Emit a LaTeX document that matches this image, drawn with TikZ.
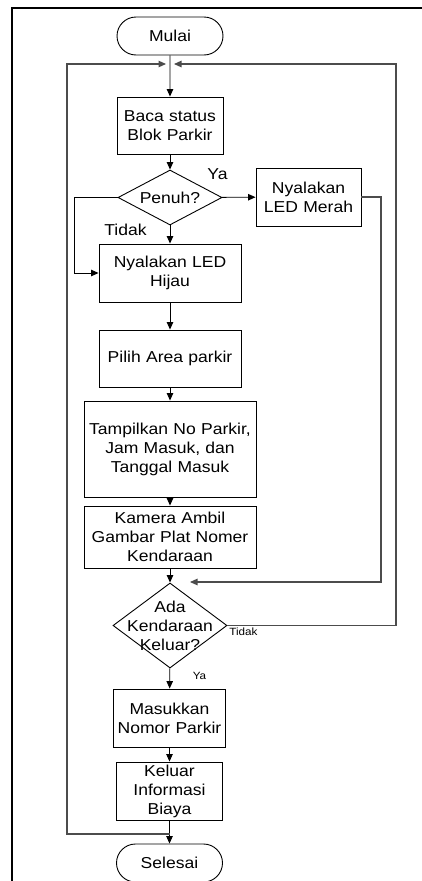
\documentclass[tikz,border=0pt]{standalone}
\usepackage{fontspec}
\setmainfont{Liberation Sans}[FakeStretch=1.11]
\usetikzlibrary{arrows.meta,shapes.geometric,shapes.misc}
\begin{document}
\begin{tikzpicture}[x=1pt,y=-1pt,
  font=\fontsize{15.8}{19}\selectfont,
  box/.style={draw,line width=0.9pt,rectangle,inner sep=0pt,align=center,text width=#1},
  term/.style={draw,line width=0.9pt,rounded rectangle,inner sep=0pt,minimum width=106pt,minimum height=38pt,align=center},
  dec/.style={draw,line width=0.9pt,diamond,inner sep=0pt},
  arr/.style={line width=0.9pt,-{Triangle[length=7.5pt,width=6.5pt]}},
  loopline/.style={line width=1.1pt,draw=black!70},
  small/.style={font=\fontsize{10.5}{12}\selectfont},
]
\useasboundingbox (0,0) rectangle (422,881);
\clip (0,0) rectangle (422,881);
% page frame
\draw[line width=1.6pt] (12,883) -- (12,8) -- (424,8);

% nodes
\node[term] (mulai) at (170,36) {Mulai};
\node[box=100pt,minimum width=106pt,minimum height=57pt] (baca) at (170,125.5) {Baca status\\Blok Parkir};
\node[dec,minimum width=104pt,minimum height=55pt] (penuh) at (170,197.5) {};
\node (penuht) at (penuh.center) {Penuh?};
\node[box=100pt,minimum width=105pt,minimum height=58pt] (merah) at (308.5,197) {Nyalakan\\LED Merah};
\node[box=136pt,minimum width=142pt,minimum height=58pt] (hijau) at (170,273) {Nyalakan LED\\Hijau};
\node[box=136pt,minimum width=142pt,minimum height=57pt] (pilih) at (170,358.5) {Pilih Area parkir};
\node[box=170pt,minimum width=172pt,minimum height=96pt] (tampil) at (170,449) {Tampilkan No Parkir,\\Jam Masuk, dan\\Tanggal Masuk};
\node[box=170pt,minimum width=172pt,minimum height=62pt] (kamera) at (170,537) {Kamera Ambil\\Gambar Plat Nomer\\Kendaraan};
\node[dec,minimum width=114pt,minimum height=85pt] (ada) at (170,625.5) {};
\node[align=center] (adat) at (ada.center) {Ada\\Kendaraan\\Keluar?};
\node[box=108pt,minimum width=112pt,minimum height=58pt] (masuk) at (169.5,718) {Masukkan\\Nomor Parkir};
\node[box=104pt,minimum width=106pt,minimum height=58pt] (keluar) at (169.5,791) {Keluar\\Informasi\\Biaya};
\node[term] (selesai) at (169.5,863) {Selesai};

% labels
\node (ya1) at (217.5,174) {Ya};
\node (tidak1) at (125.5,230) {Tidak};
\node[small] (tidak2) at (243.5,632) {Tidak};
\node[small] (ya2) at (199.5,676) {Ya};

% helper coordinates
\coordinate (topL) at (67,64);
\coordinate (topLtip) at (166,64);
\coordinate (topR) at (396,64);
\coordinate (topRtip) at (174,64);
\coordinate (botL) at (67,834);
\coordinate (botJ) at (169.5,834);
\coordinate (rR) at (396,625.5);
\coordinate (mR1) at (381,197);
\coordinate (mR2) at (381,582);
\coordinate (mTip) at (190,582);
\coordinate (pL1) at (74,197.5);
\coordinate (pL2) at (74,273);

% connectors
\draw[arr] (mulai) -- (baca);
\draw[arr] (baca) -- (penuh);
\draw[arr] (penuh) -- (merah);
\draw[arr] (penuh) -- (hijau);
\draw[arr] (penuh.west) -- (pL1) -- (pL2) -- (hijau.west);
\draw[arr,loopline] (merah.east) -- (mR1) -- (mR2) -- (mTip);
\draw[arr] (hijau) -- (pilih);
\draw[arr] (pilih) -- (tampil);
\draw[arr] (tampil) -- (kamera);
\draw[arr] (kamera) -- (ada);
\draw[arr] (ada) -- (masuk);
\draw[arr] (masuk) -- (keluar);
\draw[arr] (keluar) -- (selesai);
\draw[arr,loopline] (botJ) -- (botL) -- (topL) -- (topLtip);
\draw[arr,loopline] (ada.east) -- (rR) -- (topR) -- (topRtip);
\end{tikzpicture}
\end{document}
